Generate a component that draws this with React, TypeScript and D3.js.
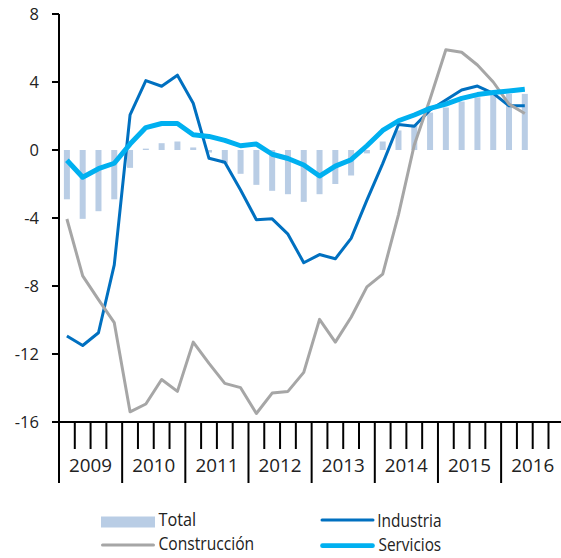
import React from "react";
import * as d3 from "d3";

const years = ["2009", "2010", "2011", "2012", "2013", "2014", "2015", "2016"];
const yTicks = [8, 4, 0, -4, -8, -12, -16];

const total = [-2.9, -4.05, -3.6, -2.9, -1.05, 0.08, 0.4, 0.5, 0.15, -0.15, -0.8, -1.4, -2.05, -2.4, -2.6, -3.05, -2.6, -2.0, -1.5, -0.2, 0.5, 1.15, 1.5, 2.2, 2.5, 2.85, 3.1, 3.3, 3.3, 3.3];
const industria = [-10.94, -11.5, -10.75, -6.76, 2.06, 4.08, 3.75, 4.4, 2.75, -0.49, -0.72, -2.35, -4.1, -4.05, -4.95, -6.63, -6.15, -6.4, -5.2, -2.95, -0.8, 1.5, 1.4, 2.35, 2.94, 3.53, 3.76, 3.33, 2.6, 2.6];
const construccion = [-4.06, -7.4, -8.8, -10.16, -15.4, -14.94, -13.5, -14.2, -11.3, -12.55, -13.73, -13.98, -15.5, -14.3, -14.2, -13.08, -9.96, -11.3, -9.84, -8.05, -7.3, -3.8, 0.3, 3.0, 5.9, 5.75, 5.0, 4.0, 2.7, 2.15];
const servicios = [-0.6, -1.6, -1.1, -0.78, 0.35, 1.32, 1.56, 1.56, 0.9, 0.8, 0.57, 0.25, 0.35, -0.25, -0.5, -0.88, -1.53, -0.95, -0.57, 0.25, 1.15, 1.72, 2.06, 2.45, 2.7, 3.04, 3.26, 3.38, 3.47, 3.57];

const W = 561;
const H = 558;
const left = 59;
const qw = 15.79;
const nQ = years.length * 4;

const FONT = "'Open Sans', 'Noto Sans', sans-serif";

export default function App() {
  const x = d3.scaleLinear().domain([0, nQ]).range([left, left + nQ * qw]);
  const y = d3.scaleLinear().domain([-16, 8]).range([422, 14]);
  const cx = (i: number) => x(i + 0.5);

  const line = d3
    .line<number>()
    .x((_, i) => cx(i))
    .y((d) => y(d));

  const barW = 6;

  return (
    <svg
      width={W}
      height={H}
      style={{ position: "absolute", left: 0, top: 0, background: "#fff" }}
      fontFamily={FONT}
    >
      {/* bars */}
      {total.map((v, i) => (
        <rect
          key={"b" + i}
          x={cx(i) - barW / 2}
          y={Math.min(y(v), y(0))}
          width={barW}
          height={Math.max(1, Math.abs(y(v) - y(0)))}
          fill="#b9cde5"
        />
      ))}
      <path d={line(industria) || ""} fill="none" stroke="#0070c0" strokeWidth={3} strokeLinejoin="round" />
      <path d={line(construccion) || ""} fill="none" stroke="#a6a6a6" strokeWidth={3} strokeLinejoin="round" />
      <path d={line(servicios) || ""} fill="none" stroke="#00b0f0" strokeWidth={5} strokeLinejoin="round" />

      {/* y axis */}
      <line x1={left} x2={left} y1={y(8)} y2={422} stroke="#000" strokeWidth={2} />
      {yTicks.map((t) => (
        <g key={"yt" + t}>
          <line x1={left - 7} x2={left} y1={y(t)} y2={y(t)} stroke="#000" strokeWidth={2} />
          <text x={39} y={y(t)} dy="0.36em" textAnchor="end" fontSize={16.5} fill="#222">
            {t}
          </text>
        </g>
      ))}

      {/* x axis */}
      <line x1={left - 1} x2={W} y1={422} y2={422} stroke="#000" strokeWidth={2} />
      {d3.range(0, nQ).map((q) => (
        <line
          key={"xt" + q}
          x1={x(q)}
          x2={x(q)}
          y1={422}
          y2={q % 4 === 0 ? 483 : 449}
          stroke="#000"
          strokeWidth={2}
        />
      ))}
      {years.map((yr, k) => (
        <text
          key={yr}
          x={x(k * 4 + 2)}
          y={471.5}
          textAnchor="middle"
          fontSize={18.5}
          fill="#222"
          textLength={43}
          lengthAdjust="spacingAndGlyphs"
        >
          {yr}
        </text>
      ))}

      {/* legend */}
      <rect x={101} y={516.5} width={54} height={11} fill="#b9cde5" />
      <text x={158.5} y={525.7} fontSize={18.5} fill="#222" textLength={37.7} lengthAdjust="spacingAndGlyphs">
        Total
      </text>
      <line x1={102.5} x2={153.5} y1={545} y2={545} stroke="#a6a6a6" strokeWidth={3} strokeLinecap="round" />
      <text x={158.5} y={550} fontSize={18.5} fill="#222" textLength={95.7} lengthAdjust="spacingAndGlyphs">
        Construcción
      </text>
      <line x1={322} x2={373} y1={520} y2={520} stroke="#0070c0" strokeWidth={3} strokeLinecap="round" />
      <text x={377.3} y={526.7} fontSize={18.5} fill="#222" textLength={64.3} lengthAdjust="spacingAndGlyphs">
        Industria
      </text>
      <line x1={322.5} x2={372.5} y1={545.7} y2={545.7} stroke="#00b0f0" strokeWidth={4.7} strokeLinecap="round" />
      <text x={378.5} y={550.5} fontSize={18.5} fill="#222" textLength={62.7} lengthAdjust="spacingAndGlyphs">
        Servicios
      </text>
    </svg>
  );
}
